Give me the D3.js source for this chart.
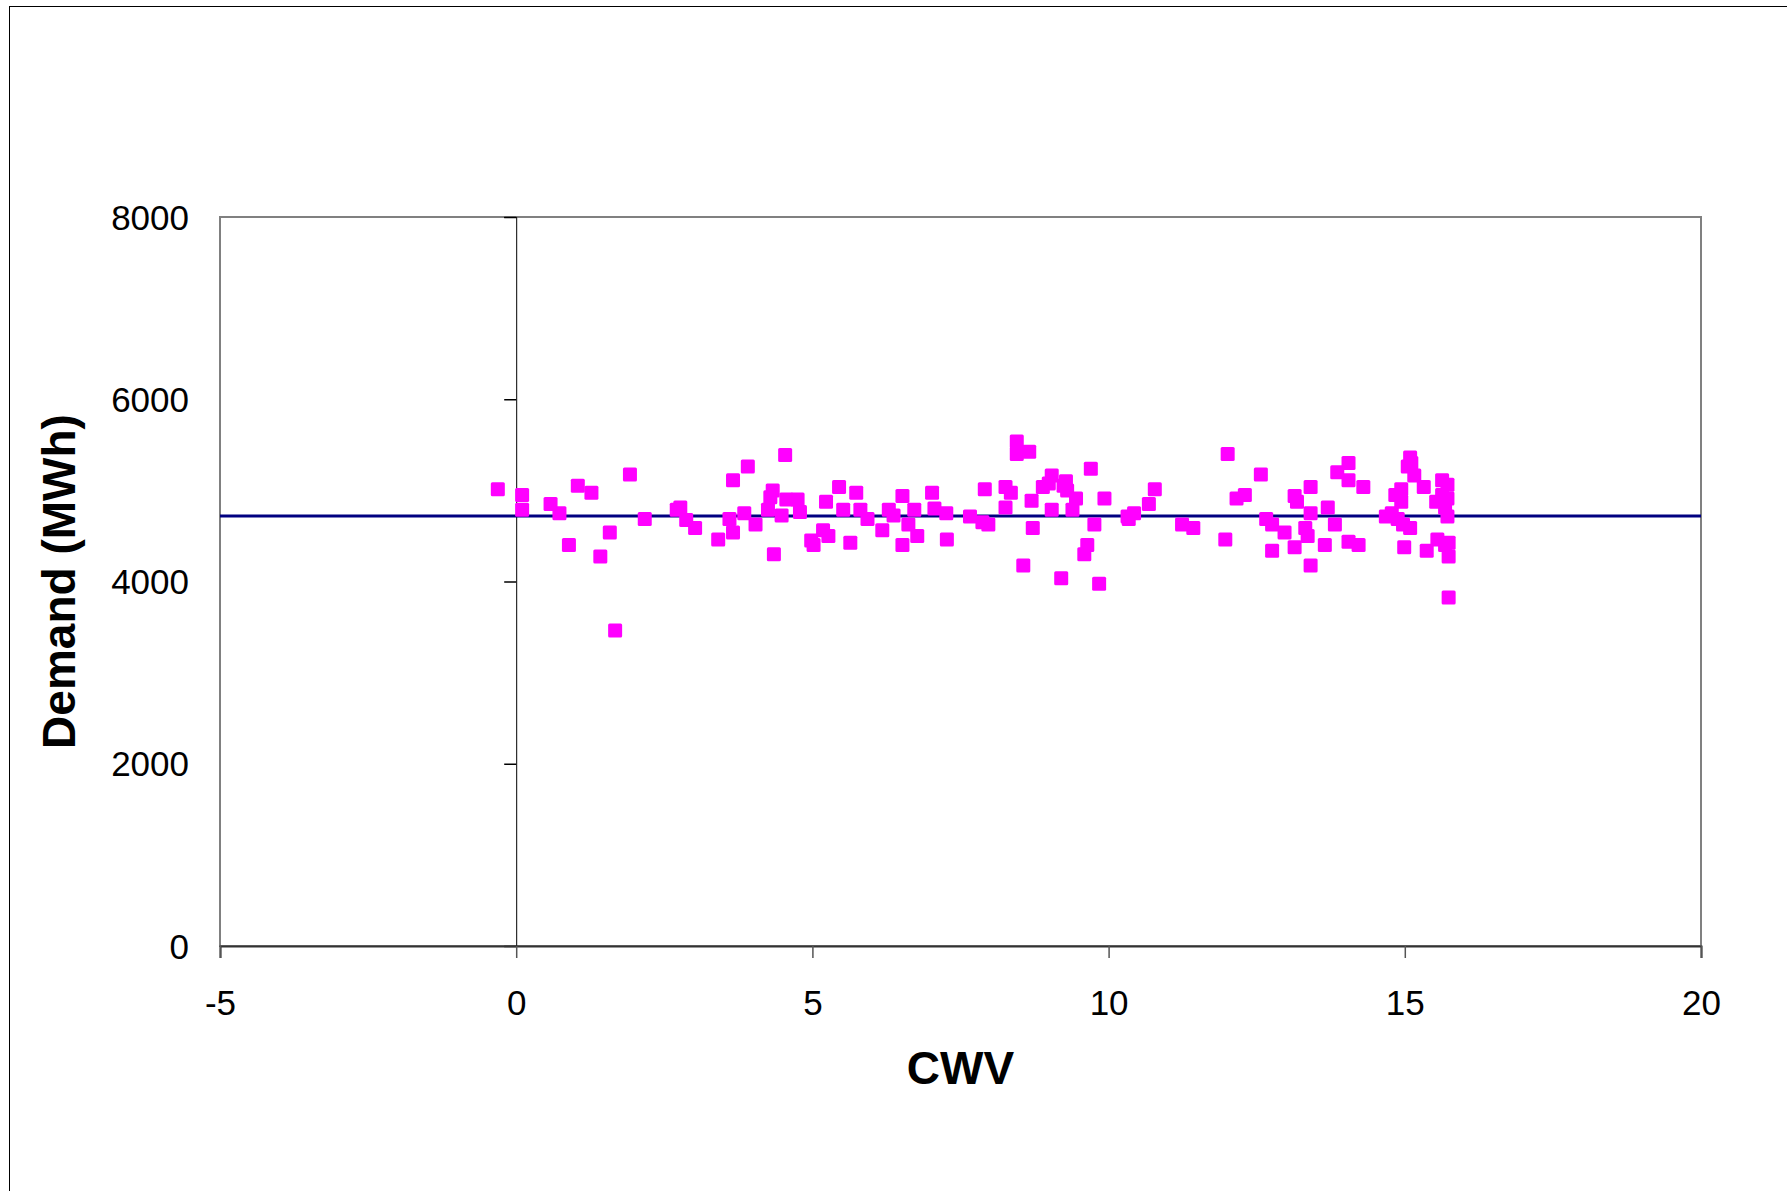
<!DOCTYPE html>
<html>
<head>
<meta charset="utf-8">
<script src="https://cdn.jsdelivr.net/npm/d3@7"></script>
<style>
  html, body { margin: 0; padding: 0; background: #fff; }
  svg { display: block; }
  text { font-family: "Liberation Sans", Arial, sans-serif; fill: #000; }
</style>
</head>
<body>
<script>
// CWV (x) and daily demand in MWh (y)
const cwv = [
  -0.31, 0.10, 0.10, 0.58, 0.73, 0.89, 1.04, 1.27, 1.42, 1.58,
  1.67, 1.92, 2.17, 2.71, 2.77, 2.87, 3.02, 3.41, 3.60, 3.66,
  3.66, 3.85, 3.91, 4.04, 4.25, 4.33, 4.35, 4.29, 4.48, 4.54,
  4.56, 4.75, 4.79, 4.98, 5.02, 5.18, 5.23, 5.27, 5.45, 5.52,
  5.64, 5.74, 5.81, 5.93, 6.18, 6.29, 6.37, 6.52, 6.52, 6.62,
  6.72, 6.77, 7.02, 7.06, 7.26, 7.27, 7.66, 7.87, 7.91, 7.97,
  8.26, 8.26, 8.35, 8.45, 8.45, 8.56, 8.66, 8.70, 8.72, 8.89,
  8.99, 9.04, 9.04, 9.20, 9.24, 9.28, 9.30, 9.39, 9.45, 9.59,
  9.64, 9.70, 9.76, 9.84, 9.93, 10.32, 10.34, 10.43, 10.68, 10.78,
  11.24, 11.43, 11.97, 12.01, 12.16, 12.30, 12.57, 12.66, 12.76, 12.76,
  12.97, 13.14, 13.14, 13.18, 13.32, 13.36, 13.41, 13.41, 13.41, 13.65,
  13.70, 13.82, 13.86, 14.05, 14.05, 14.05, 14.22, 14.30, 14.68, 14.78,
  14.84, 14.88, 14.94, 14.94, 14.97, 14.99, 15.05, 15.09, 15.11, 15.09,
  15.16, 15.32, 15.37, 15.53, 15.55, 15.63, 15.63, 15.68, 15.72, 15.72,
  15.74, 15.74, 15.74, 15.72, 15.68
];
const demand = [
  5012, 4950, 4787, 4850, 4750, 4400, 5050, 4975, 4275, 4537,
  3462, 5175, 4687, 4787, 4812, 4675, 4587, 4462, 4687, 5112,
  4537, 4750, 5262, 4625, 4787, 5000, 4300, 4925, 4725, 5387,
  4900, 4900, 4762, 4450, 4400, 4562, 4875, 4500, 5037, 4787,
  4425, 4975, 4787, 4687, 4562, 4787, 4725, 4937, 4400, 4625,
  4787, 4500, 4975, 4800, 4750, 4462, 4712, 4650, 5012, 4625,
  5037, 4812, 4975, 5537, 5400, 4175, 5425, 4887, 4587, 5037,
  5075, 5162, 4787, 4037, 5050, 5100, 5000, 4787, 4912, 4300,
  4400, 5237, 4625, 3975, 4912, 4712, 4687, 4750, 4850, 5012,
  4625, 4587, 4462, 5400, 4912, 4950, 5175, 4687, 4625, 4337,
  4537, 4937, 4375, 4875, 4587, 4500, 5037, 4750, 4175, 4400,
  4812, 4625, 5200, 5300, 5112, 4437, 4400, 5037, 4712, 4750,
  4950, 4687, 5012, 4875, 4625, 4375, 5262, 5362, 5300, 4587,
  5162, 5037, 4337, 4875, 4462, 5112, 4950, 4812, 5062, 4712,
  4425, 4275, 3825, 4912, 4400
];
// average demand, drawn as a flat reference line
const meanDemand = 4720;

const xTicks = [-5, 0, 5, 10, 15, 20];
const yTicks = [0, 2000, 4000, 6000, 8000];
const xTitle = "CWV";
const yTitle = "Demand (MWh)";

const W = 1787, H = 1191;
const plot = { left: 220, right: 1701, top: 217, bottom: 946 };

const svg = d3.select("body").append("svg")
  .attr("width", W).attr("height", H);

svg.append("rect").attr("width", W).attr("height", H).attr("fill", "#fff");

// outer chart frame
svg.append("rect")
  .attr("x", 9.5).attr("y", 6.5)
  .attr("width", 1800).attr("height", 1300)
  .attr("fill", "none").attr("stroke", "#000").attr("stroke-width", 1);

const x = d3.scaleLinear().domain([-5, 20]).range([plot.left, plot.right]);
const y = d3.scaleLinear().domain([0, 8000]).range([plot.bottom, plot.top]);

// plot area border
svg.append("rect")
  .attr("x", plot.left).attr("y", plot.top)
  .attr("width", plot.right - plot.left).attr("height", plot.bottom - plot.top)
  .attr("fill", "#fff").attr("stroke", "#808080").attr("stroke-width", 2);

// vertical axis crosses at CWV = 0, ticks outward to the left, labels kept at the plot edge
const yAxis = d3.axisLeft(y).tickValues(yTicks).tickSize(12).tickFormat("");
const gy = svg.append("g").attr("transform", `translate(${x(0)},0)`).call(yAxis);
gy.select(".domain").attr("stroke", "#000").attr("stroke-width", 1);
gy.selectAll(".tick line").attr("stroke", "#000").attr("stroke-width", 1.5);

svg.append("g").selectAll("text").data(yTicks).join("text")
  .attr("x", 189).attr("y", d => y(d)).attr("dy", "0.36em")
  .attr("text-anchor", "end").attr("font-size", 35)
  .text(d => d);

// horizontal axis at demand = 0
const xAxis = d3.axisBottom(x).tickValues(xTicks).tickSize(12).tickPadding(32)
  .tickFormat(d => String(d));
const gx = svg.append("g").attr("transform", `translate(0,${y(0)})`).call(xAxis);
gx.select(".domain").attr("stroke", "#333").attr("stroke-width", 2);
gx.selectAll(".tick line").attr("stroke", "#555").attr("stroke-width", 1.5);
gx.selectAll(".tick text")
  .attr("font-size", 35).attr("font-family", "'Liberation Sans', Arial, sans-serif")
  .attr("fill", "#000").attr("dy", "0.71em");

// mean demand line
svg.append("line")
  .attr("x1", plot.left).attr("x2", plot.right)
  .attr("y1", y(meanDemand)).attr("y2", y(meanDemand))
  .attr("stroke", "#000080").attr("stroke-width", 3);

// scatter markers
const pts = cwv.map((c, i) => ({ c, d: demand[i] }));
const s = 14;
svg.append("g").selectAll("rect").data(pts).join("rect")
  .attr("x", p => x(p.c) - s / 2).attr("y", p => y(p.d) - s / 2)
  .attr("width", s).attr("height", s).attr("rx", 1.5)
  .attr("fill", "#ff00ff");

// axis titles
svg.append("text")
  .attr("x", (plot.left + plot.right) / 2).attr("y", 1084)
  .attr("text-anchor", "middle").attr("font-size", 46).attr("font-weight", "bold")
  .text(xTitle);

svg.append("text")
  .attr("transform", `translate(75,${(plot.top + plot.bottom) / 2}) rotate(-90)`)
  .attr("text-anchor", "middle").attr("font-size", 46).attr("font-weight", "bold")
  .text(yTitle);
</script>
</body>
</html>
